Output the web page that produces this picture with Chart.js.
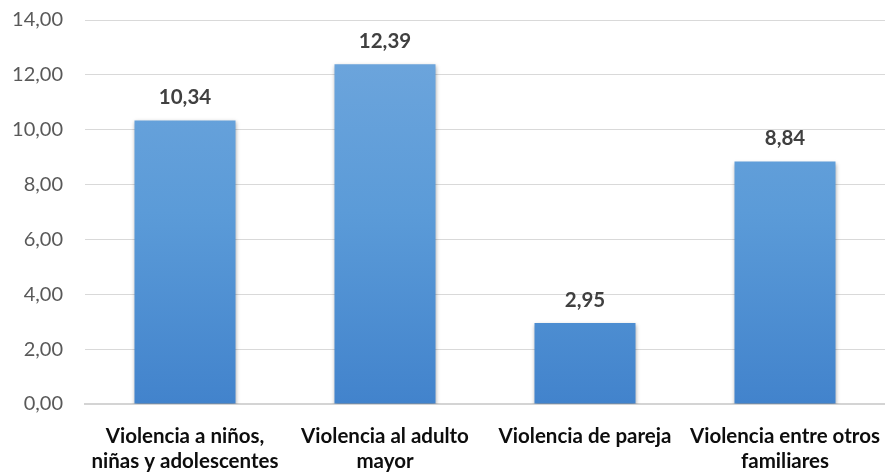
<!DOCTYPE html>
<html><head><meta charset="utf-8">
<script src="https://cdn.jsdelivr.net/npm/chart.js@4"></script>
<style>html,body{margin:0;padding:0;background:#fff}#wrap{width:885px;height:473px}</style>
</head><body><div id="wrap"><canvas id="c"></canvas></div>
<script>
const categories = [
  ["Violencia a niños,", "niñas y adolescentes"],
  ["Violencia al adulto", "mayor"],
  ["Violencia de pareja"],
  ["Violencia entre otros", "familiares"]
];
const values = [10.34, 12.39, 2.95, 8.84];
const yTicks = [0, 2, 4, 6, 8, 10, 12, 14];

const fmt = v => v.toFixed(2).replace('.', ',');
const FONT = 'Lato, "Open Sans", sans-serif';

const valueLabels = {
  id: 'valueLabels',
  afterDatasetsDraw(chart) {
    const ctx = chart.ctx;
    const meta = chart.getDatasetMeta(0);
    ctx.save();
    ctx.font = 'bold 20.5px ' + FONT;
    ctx.fillStyle = '#404040';
    ctx.textAlign = 'center';
    ctx.textBaseline = 'middle';
    meta.data.forEach((el, i) => {
      ctx.fillText(fmt(values[i]), el.x, el.y - 23);
    });
    ctx.restore();
  }
};

const shadow = {
  id: 'shadow',
  beforeDatasetDraw(chart) {
    const ctx = chart.ctx;
    ctx.save();
    ctx.shadowColor = 'rgba(0,0,0,0.35)';
    ctx.shadowBlur = 4;
    ctx.shadowOffsetX = 0;
    ctx.shadowOffsetY = 2;
  },
  afterDatasetDraw(chart) { chart.ctx.restore(); }
};

new Chart(document.getElementById('c'), {
  type: 'bar',
  data: {
    labels: categories,
    datasets: [{
      data: values,
      backgroundColor(context) {
        const ca = context.chart.chartArea;
        if (!ca) return '#5b9bd5';
        const g = context.chart.ctx.createLinearGradient(0, ca.top, 0, ca.bottom);
        g.addColorStop(0, '#70a7dd');
        g.addColorStop(0.5, '#5b9bd8');
        g.addColorStop(1, '#4283cc');
        return g;
      },
      borderWidth: 0,
      barPercentage: 0.505,
      categoryPercentage: 1.0
    }]
  },
  options: {
    responsive: true,
    maintainAspectRatio: false,
    animation: false,
    layout: { padding: { top: 20, right: 0, left: 13, bottom: 0 } },
    plugins: { legend: { display: false }, tooltip: { enabled: false } },
    scales: {
      x: {
        grid: { display: false, drawTicks: false },
        border: { color: '#d4d4d4', width: 2 },
        ticks: {
          color: '#0d0d0d',
          font: { family: FONT, size: 20.5, weight: 'bold', lineHeight: 1.22 },
          padding: 20,
          maxRotation: 0,
          autoSkip: false
        },
        afterFit(scale) {
          scale.height = 69;
          scale.paddingLeft = 0;
          scale.paddingRight = 0;
        }
      },
      y: {
        min: 0, max: 14,
        afterBuildTicks(axis) { axis.ticks = yTicks.map(v => ({ value: v })); },
        grid: { color: '#d9d9d9', lineWidth: 1, drawTicks: false },
        border: { display: false },
        ticks: {
          color: '#595959',
          font: { family: FONT, size: 20 },
          padding: 22,
          callback: v => fmt(v)
        },
        afterFit(scale) {
          scale.width = 72;
          scale.paddingTop = 0;
          scale.paddingBottom = 0;
        }
      }
    }
  },
  plugins: [shadow, valueLabels]
});
</script></body></html>
